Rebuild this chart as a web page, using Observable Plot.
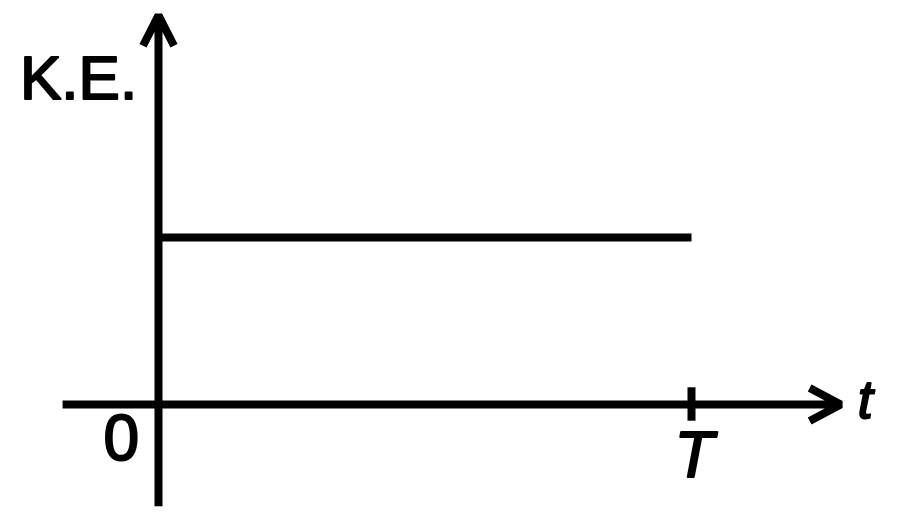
<!DOCTYPE html>
<html>
<head>
<meta charset="utf-8">
<script src="https://cdn.jsdelivr.net/npm/d3@7"></script>
<script src="https://cdn.jsdelivr.net/npm/@observablehq/plot@0.6"></script>
<style>
  html, body { margin: 0; padding: 0; background: #fff; }
  #chart svg { display: block; }
</style>
</head>
<body>
<div id="chart"></div>
<script>
// Data (time in units of T, kinetic energy in arbitrary units)
const times = [0, 1];          // 0 … T
const keValues = [1, 1];       // constant kinetic energy
const tickLabels = ["0", "T"];
const axisLabels = ["K.E.", "t"];

// Axis extents (data units)
const xAxisExtent = [-0.18, 1.28];
const yAxisExtent = [-0.61, 2.33];

const keLine = times.map((t, i) => ({t, ke: keValues[i]}));

const font = "Liberation Sans, Arial, sans-serif";
const textStyle = {fill: "#000", stroke: "#000", strokeWidth: 2, fontFamily: font};

const plot = Plot.plot({
  width: 900,
  height: 517,
  margin: 0,
  x: {domain: [0, 1], range: [158, 691], axis: null},
  y: {domain: [0, 1], range: [404, 237], axis: null},
  style: {background: "#fff", color: "#000"},
  marks: [
    // y axis arrow
    Plot.arrow([{x1: 0, y1: yAxisExtent[0], x2: 0, y2: yAxisExtent[1]}], {
      x1: "x1", y1: "y1", x2: "x2", y2: "y2",
      stroke: "#000", strokeWidth: 8, headLength: 6.4, headAngle: 54, strokeLinecap: "butt"
    }),
    // x axis arrow
    Plot.arrow([{x1: xAxisExtent[0], y1: 0, x2: xAxisExtent[1], y2: 0}], {
      x1: "x1", y1: "y1", x2: "x2", y2: "y2",
      stroke: "#000", strokeWidth: 8, headLength: 6.6, headAngle: 56, strokeLinecap: "butt"
    }),
    // tick at T
    Plot.ruleX([times[1]], {y1: -0.1, y2: 0.1, stroke: "#000", strokeWidth: 8}),
    // constant kinetic energy
    Plot.line(keLine, {x: "t", y: "ke", stroke: "#000", strokeWidth: 8, strokeLinecap: "butt"}),
    // labels
    Plot.text([axisLabels[0]], {x: -0.04, y: 1.95, text: d => d, textAnchor: "end",
      fontSize: 62, ...textStyle}),
    Plot.text([tickLabels[0]], {x: -0.07, y: -0.21, text: d => d,
      fontSize: 64, ...textStyle}),
    Plot.text([tickLabels[1]], {x: 1.005, y: -0.31, text: d => d, fontStyle: "italic",
      fontSize: 64, ...textStyle}),
    Plot.text([axisLabels[1]], {x: 1.326, y: 0.02, text: d => d, fontStyle: "italic",
      fontSize: 54, ...textStyle})
  ]
});
document.getElementById("chart").append(plot);
</script>
</body>
</html>
